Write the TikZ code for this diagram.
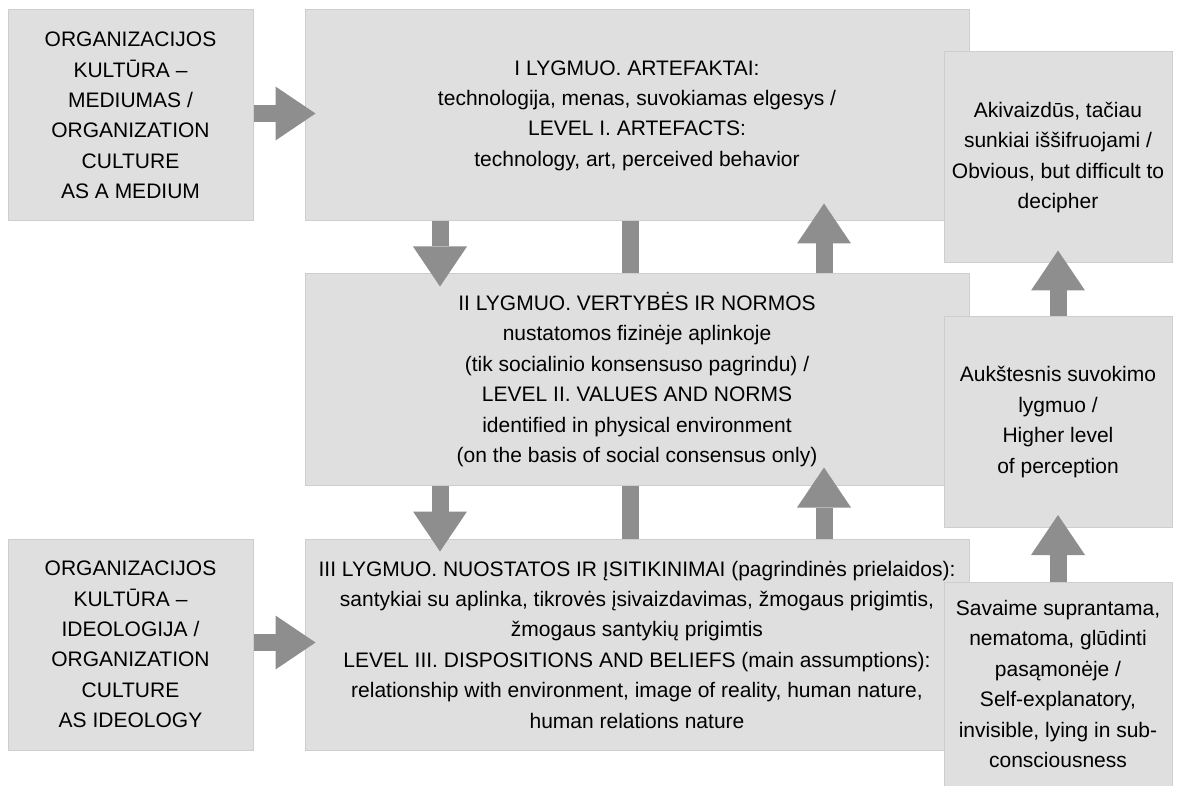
\documentclass[tikz,border=0pt]{standalone}
\usepackage{fontspec}
\setmainfont{Liberation Sans}
\usetikzlibrary{arrows.meta}
\definecolor{boxfill}{RGB}{223,223,223}
\definecolor{boxline}{RGB}{206,206,206}
\definecolor{arrowgray}{RGB}{142,142,142}
\tikzset{
	levelbox/.style={draw=boxline, fill=boxfill, line width=1pt, inner sep=0pt, align=center, font=\fontsize{21}{30.4}\selectfont},
	blockarrow/.style={draw=arrowgray, line width=17pt, -{Triangle[width=54pt,length=40pt,line width=0pt]}},
	blockbar/.style={draw=arrowgray, line width=17pt}
}

\begin{document}
\begin{tikzpicture}[x=1pt,y=-1pt]
			%%%%% START %%%%%
			\useasboundingbox (0,0) rectangle (1178,786);
			
			\node[levelbox, minimum width=245pt, minimum height=211pt] (medium) at (130.5,115.5) {ORGANIZACIJOS\\KULTŪRA –\\MEDIUMAS /\\ORGANIZATION\\CULTURE\\AS A MEDIUM};
			\node[levelbox, minimum width=245pt, minimum height=211pt] (ideology) at (130.5,644.5) {ORGANIZACIJOS\\KULTŪRA –\\IDEOLOGIJA /\\ORGANIZATION\\CULTURE\\AS IDEOLOGY};
			
			\node[levelbox, minimum width=664pt, minimum height=211pt] (levelI) at (637,115.5) {I LYGMUO. ARTEFAKTAI:\\technologija, menas, suvokiamas elgesys /\\LEVEL I. ARTEFACTS:\\technology, art, perceived behavior};
			\node[levelbox, minimum width=664pt, minimum height=211pt] (levelII) at (637,379.5) {II LYGMUO. VERTYBĖS IR NORMOS\\nustatomos fizinėje aplinkoje\\(tik socialinio konsensuso pagrindu) /\\LEVEL II. VALUES AND NORMS\\identified in physical environment\\(on the basis of social consensus only)};
			\node[levelbox, minimum width=664pt, minimum height=211pt] (levelIII) at (637,644.5) {III LYGMUO. NUOSTATOS IR ĮSITIKINIMAI (pagrindinės prielaidos):\\santykiai su aplinka, tikrovės įsivaizdavimas, žmogaus prigimtis,\\žmogaus santykių prigimtis\\LEVEL III. DISPOSITIONS AND BELIEFS (main assumptions):\\relationship with environment, image of reality, human nature,\\human relations nature};
			
			\node[levelbox, minimum width=228pt, minimum height=211pt] (obvious) at (1058,157.5) {Akivaizdūs, tačiau\\sunkiai iššifruojami /\\Obvious, but difficult to\\decipher};
			\node[levelbox, minimum width=228pt, minimum height=211pt] (higher) at (1058,422) {Aukštesnis suvokimo\\lygmuo /\\Higher level\\of perception};
			\node[levelbox, minimum width=228pt, minimum height=204pt] (hidden) at (1058,684) {Savaime suprantama,\\nematoma, glūdinti\\pasąmonėje /\\Self-explanatory,\\invisible, lying in sub-\\consciousness};
			
			\coordinate (xdown) at (440,0);
			\coordinate (xbar) at (630.5,0);
			\coordinate (xup) at (824,0);
			
			\draw[blockarrow, shorten >=-11pt] ([yshift=2pt]medium.east) -- ([yshift=2pt]levelI.west);
			\draw[blockarrow, shorten >=-11pt] ([yshift=2pt]ideology.east) -- ([yshift=2pt]levelIII.west);
			
			\draw[blockarrow, shorten >=-13pt] (levelI.south -| xdown) -- (levelII.north -| xdown);
			\draw[blockbar] (levelI.south -| xbar) -- (levelII.north -| xbar);
			\draw[blockarrow, shorten >=-18pt] (levelII.north -| xup) -- (levelI.south -| xup);
			
			\draw[blockarrow, shorten >=-13pt] (levelII.south -| xdown) -- (levelIII.north -| xdown);
			\draw[blockbar] (levelII.south -| xbar) -- (levelIII.north -| xbar);
			\draw[blockarrow, shorten >=-18pt] (levelIII.north -| xup) -- (levelII.south -| xup);
			
			\draw[blockarrow, shorten >=-13pt] (higher.north) -- (obvious.south);
			\draw[blockarrow, shorten >=-13pt] (hidden.north) -- (higher.south);
			
			%%%%% END %%%%%
\end{tikzpicture}
\end{document}
